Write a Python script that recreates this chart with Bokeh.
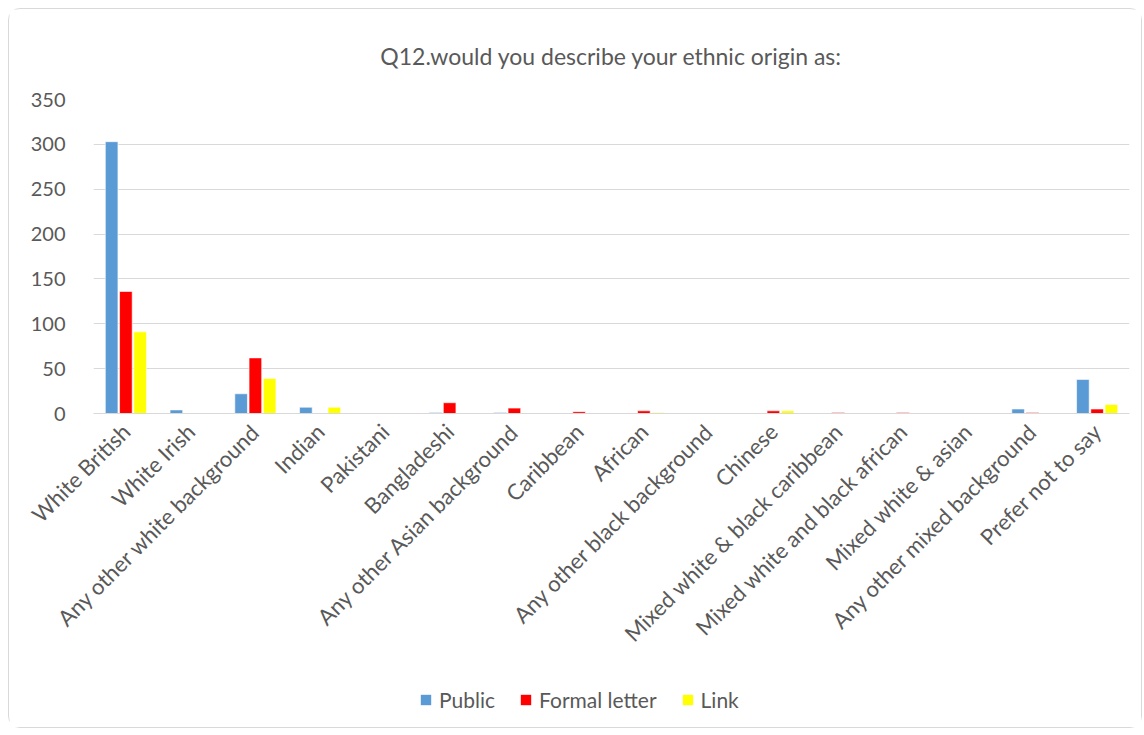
from bokeh.plotting import figure
from bokeh.models import FactorRange, Legend, LegendItem, SingleIntervalTicker, ColumnDataSource
from bokeh.layouts import column
from bokeh.transform import dodge
from bokeh.embed import file_html
from bokeh.resources import INLINE
import math

categories = ["White British", "White Irish", "Any other white background", "Indian", "Pakistani",
              "Bangladeshi", "Any other Asian background", "Caribbean", "African",
              "Any other black background", "Chinese", "Mixed white & black caribbean",
              "Mixed white and black african", "Mixed white & asian", "Any other mixed background",
              "Prefer not to say"]
public = [303, 4, 22, 7, 0, 1, 1, 0, 0, 0, 0.5, 0, 0, 0.5, 5, 38]
formal_letter = [136, 0, 62, 0, 0.5, 12, 6, 2, 3, 0, 3, 1, 1, 0, 1, 5]
link = [91, 0, 39, 7, 0, 0, 0, 0, 1, 0, 3, 0, 0.5, 0, 0.5, 10]
series_names = ["Public", "Formal letter", "Link"]
colors = ["#5b9bd5", "#ff0000", "#ffff00"]

src = ColumnDataSource(dict(cat=categories, public=public, formal=formal_letter, link=link))

FONT = "Lato"
GREY = "#595959"

p = figure(x_range=FactorRange(*categories), y_range=(0, 350),
           frame_width=1036, frame_height=314, output_backend="svg", toolbar_location=None,
           title="Q12.would you describe your ethnic origin as:",
           min_border_left=84, min_border_right=12, min_border_top=90, min_border_bottom=260)

p.title.align = "center"
p.title.text_font = FONT
p.title.text_font_size = "23px"
p.title.text_font_style = "normal"
p.title.text_color = GREY
p.title.offset = 0
p.title.standoff = 60

offs = [-0.22, 0.0, 0.22]
for key, off, col in zip(["public", "formal", "link"], offs, colors):
    p.vbar(x=dodge("cat", off, range=p.x_range), top=key, width=0.195, source=src,
           fill_color=col, line_color="white", line_width=0.6)

p.x_range.range_padding = 0
p.yaxis.ticker = SingleIntervalTicker(interval=50)
p.yaxis.axis_line_color = None
p.yaxis.major_tick_line_color = None
p.yaxis.minor_tick_line_color = None
p.yaxis.major_label_text_font = FONT
p.yaxis.major_label_text_font_size = "20px"
p.yaxis.major_label_text_color = GREY
p.yaxis.major_label_standoff = 22

p.xaxis.axis_line_color = "#d9d9d9"
p.xaxis.major_tick_line_color = None
p.xaxis.minor_tick_line_color = None
p.xaxis.major_label_orientation = math.pi / 4
p.xaxis.major_label_text_font = FONT
p.xaxis.major_label_text_font_size = "22px"
p.xaxis.major_label_text_color = GREY
p.xaxis.major_label_standoff = 8

p.xgrid.grid_line_color = None
p.ygrid.grid_line_color = "#d9d9d9"
p.outline_line_color = None

# legend strip (swatch glyphs have zero height, so they draw nothing themselves)
lf = figure(width=1132, height=54, output_backend="svg", toolbar_location=None,
            x_range=(0, 1), y_range=(0, 1), min_border=0)
lf.axis.visible = False
lf.grid.grid_line_color = None
lf.outline_line_color = None
leg_renderers = []
for n, col in zip(series_names, colors):
    leg_renderers.append(lf.vbar(x=[0.5], top=[0], bottom=[0], width=0.01,
                                 fill_color=col, line_alpha=0))
legend = Legend(items=[LegendItem(label=n, renderers=[r]) for n, r in zip(series_names, leg_renderers)],
                orientation="horizontal", location=(326, 15))
legend.label_text_font = FONT
legend.label_text_font_size = "21px"
legend.label_text_color = GREY
legend.glyph_width = 13
legend.glyph_height = 13
legend.spacing = 24
legend.label_standoff = 7
legend.border_line_color = None
legend.background_fill_alpha = 0
legend.padding = 0
legend.margin = 0
lf.add_layout(legend, "center")

layout = column(p, lf, spacing=0)
layout.margin = (8, 4, 5, 8)
layout.styles = {"border": "1px solid #d9d9d9", "border-radius": "12px", "background": "white"}

open("out.html", "w").write(file_html(layout, INLINE))
